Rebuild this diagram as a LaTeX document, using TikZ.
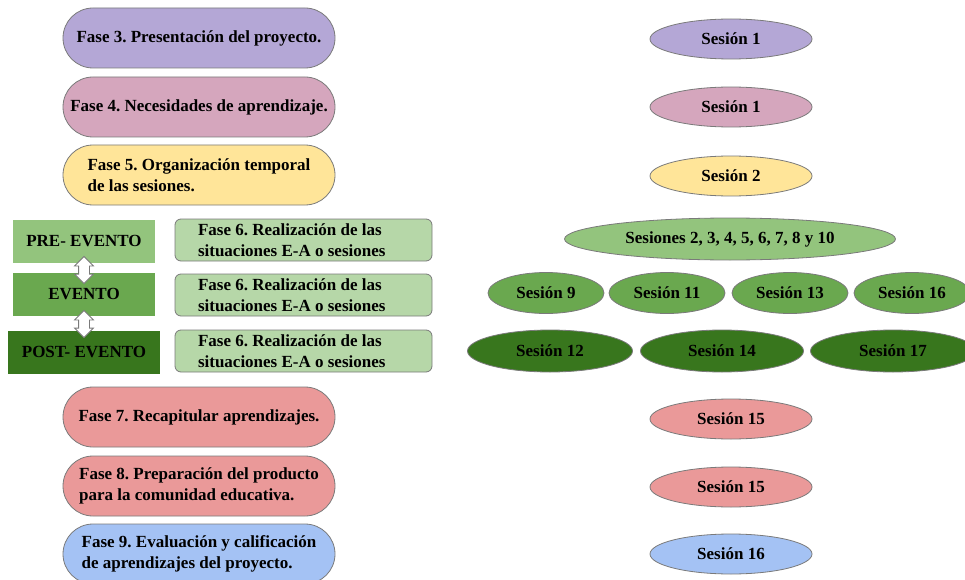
\documentclass[tikz,border=0pt]{standalone}
\usepackage{fontspec}
\setmainfont{Liberation Serif}
\usetikzlibrary{shapes.geometric,shapes.arrows}
\definecolor{lila}{HTML}{B4A7D6}
\definecolor{rosa}{HTML}{D5A6BD}
\definecolor{amarillo}{HTML}{FFE599}
\definecolor{verdeA}{HTML}{93C47D}
\definecolor{verdeB}{HTML}{6AA84F}
\definecolor{verdeC}{HTML}{38761D}
\definecolor{verdeF}{HTML}{B6D7A8}
\definecolor{rojo}{HTML}{EA9999}
\definecolor{azul}{HTML}{A4C2F4}
\definecolor{borde}{HTML}{7A7A7A}
\frenchspacing

\begin{document}
\begin{tikzpicture}[x=1pt,y=1pt]
\tikzstyle{every node}+=[inner sep=0pt,font=\fontsize{17}{21.5}\selectfont\bfseries]
\tikzstyle{fase}=[rectangle,rounded corners=30,draw=borde,line width=0.8pt,minimum width=272,minimum height=60,align=left]
\tikzstyle{fase6}=[rectangle,rounded corners=6,draw=borde,line width=0.8pt,fill=verdeF,text width=211,inner xsep=23,minimum height=42,align=flush left]
\tikzstyle{evento}=[rectangle,minimum width=142,minimum height=43]
\tikzstyle{sesion}=[ellipse,draw=borde,line width=0.8pt,minimum width=162,minimum height=40]
\tikzstyle{flecha}=[double arrow,draw=borde,line width=0.8pt,fill=white,rotate=90,inner sep=5,minimum height=27,double arrow head extend=4]
\useasboundingbox (0,0) rectangle (965,-580);
% fases
\node [fase,fill=lila] (f3) at (199,-38) {Fase 3. Presentación del proyecto.};
\node [fase,fill=rosa] (f4) at (199,-107) {Fase 4. Necesidades de aprendizaje.};
\node [fase,fill=amarillo] (f5) at (199,-175) {Fase 5. Organización temporal\\de las sesiones.};
\node [evento,fill=verdeA] (pre) at (84,-241) {PRE- EVENTO};
\node [evento,fill=verdeB] (ev) at (84,-294) {EVENTO};
\node [evento,fill=verdeC,minimum width=152] (post) at (84,-352) {POST- EVENTO};
\node [flecha] (a1) at (84,-270) {};
\node [flecha] (a2) at (84,-324) {};
\node [fase6] (f6a) at (303.5,-240) {Fase 6. Realización de las\\situaciones E-A o sesiones};
\node [fase6] (f6b) at (303.5,-295) {Fase 6. Realización de las\\situaciones E-A o sesiones};
\node [fase6] (f6c) at (303.5,-351) {Fase 6. Realización de las\\situaciones E-A o sesiones};
\node [fase,fill=rojo] (f7) at (199,-417) {Fase 7. Recapitular aprendizajes.};
\node [fase,fill=rojo] (f8) at (199,-486) {Fase 8. Preparación del producto\\para la comunidad educativa.};
\node [fase,fill=azul] (f9) at (199,-554) {Fase 9. Evaluación y calificación\\de aprendizajes del proyecto.};
% sesiones
\node [sesion,fill=lila] (s3) at (731,-39) {Sesión 1};
\node [sesion,fill=rosa] (s4) at (731,-107) {Sesión 1};
\node [sesion,fill=amarillo] (s5) at (731,-176) {Sesión 2};
\node [sesion,fill=verdeA,minimum width=331,minimum height=42] (s6a) at (730,-239) {Sesiones 2, 3, 4, 5, 6, 7, 8 y 10};
\node [sesion,fill=verdeB,minimum width=116,minimum height=41] (s9) at (546,-293) {Sesión 9};
\node [sesion,fill=verdeB,minimum width=116,minimum height=41] (s11) at (667,-293) {Sesión 11};
\node [sesion,fill=verdeB,minimum width=116,minimum height=41] (s13) at (790,-293) {Sesión 13};
\node [sesion,fill=verdeB,minimum width=116,minimum height=41] (s16b) at (912,-293) {Sesión 16};
\node [sesion,fill=verdeC,minimum width=165,minimum height=42] (s12) at (550,-351) {Sesión 12};
\node [sesion,fill=verdeC,minimum width=163,minimum height=42] (s14) at (722,-351) {Sesión 14};
\node [sesion,fill=verdeC,minimum width=165,minimum height=42] (s17) at (893,-351) {Sesión 17};
\node [sesion,fill=rojo] (s7) at (731,-419) {Sesión 15};
\node [sesion,fill=rojo] (s8) at (731,-487) {Sesión 15};
\node [sesion,fill=azul] (s9b) at (731,-554) {Sesión 16};
\end{tikzpicture}
\end{document}
